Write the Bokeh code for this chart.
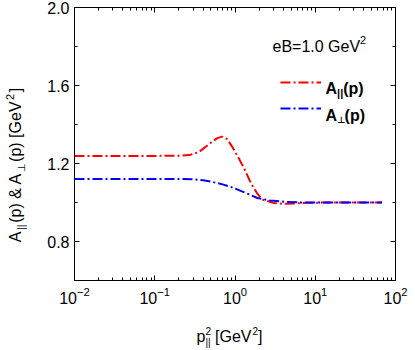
from bokeh.plotting import figure
from bokeh.layouts import column, row
from bokeh.models import (LogAxis, LinearAxis, LogTicker, SingleIntervalTicker,
                          PrintfTickFormatter, CustomJSTickFormatter, Label,
                          Legend, LegendItem, Range1d, Div)
from bokeh.embed import file_html
from bokeh.resources import INLINE

# ---------------- data ----------------
red_x = [0.01, 0.03, 0.1, 0.2, 0.27, 0.356, 0.49, 0.6, 0.695, 0.8, 0.90,
         1.09, 1.31, 1.58, 1.9, 2.18, 3.0, 4.0, 5.7, 8.0, 20.0, 68.0]
red_y = [1.239, 1.239, 1.239, 1.240, 1.243, 1.259, 1.304, 1.330, 1.338, 1.325, 1.293,
         1.234, 1.172, 1.099, 1.045, 1.015, 0.998, 0.993, 0.995, 0.999, 1.000, 1.000]

blue_x = [0.01, 0.03, 0.1, 0.2, 0.3, 0.4, 0.516, 0.7, 0.9, 1.31, 1.9, 2.74,
          4.38, 7.0, 20.0, 68.0]
blue_y = [1.121, 1.121, 1.121, 1.121, 1.119, 1.114, 1.106, 1.093, 1.079, 1.052,
          1.023, 1.010, 1.003, 1.000, 1.000, 1.000]

x_limits = (0.01, 100.0)
y_limits = (0.6, 2.0)
y_major_interval = 0.4

FONT = "Liberation Sans"
RED = "#ff0000"
BLUE = "#0000ff"
DASH = "10 3 2 3"

# ---------------- geometry (pixels inside the 399x334 area) ----------------
TOTAL_W, TOTAL_H = 399, 334
YLAB_W = 26            # column holding the y-axis title
FL, FR, FT, FB = 64, 385, 7, 280          # plot frame
P_W = TOTAL_W - YLAB_W
P_H = 313
XLAB_H = TOTAL_H - P_H
frame_w, frame_h = FR - FL, FB - FT

p = figure(width=P_W, height=P_H, x_axis_type="log",
           x_range=Range1d(*x_limits), y_range=Range1d(*y_limits),
           output_backend="svg", toolbar_location=None,
           min_border_left=FL - YLAB_W, min_border_right=TOTAL_W - FR,
           min_border_top=FT, min_border_bottom=P_H - FB)
p.background_fill_color = "white"
p.border_fill_color = "white"
p.outline_line_color = "black"
p.outline_line_width = 1
p.xgrid.visible = False
p.ygrid.visible = False


def style_axis(ax):
    ax.major_tick_in = 5
    ax.major_tick_out = 0
    ax.minor_tick_in = 3
    ax.minor_tick_out = 0
    ax.axis_line_color = "black"
    ax.major_tick_line_color = "black"
    ax.minor_tick_line_color = "black"
    ax.major_label_text_font = FONT
    ax.major_label_text_font_size = "16px"
    ax.major_label_text_color = "black"


xa = p.xaxis[0]
style_axis(xa)
xa.ticker = LogTicker(num_minor_ticks=10)
xa.major_label_standoff = 6

ya = p.yaxis[0]
style_axis(ya)
ya.ticker = SingleIntervalTicker(interval=y_major_interval, num_minor_ticks=2)
ya.formatter = PrintfTickFormatter(format="%.1f")
ya.major_label_standoff = 5

top = LogAxis(ticker=LogTicker(num_minor_ticks=10),
              formatter=CustomJSTickFormatter(code="return ''"))
style_axis(top)
top.major_label_text_font_size = "1px"
top.major_label_standoff = 0
p.add_layout(top, "above")

right = LinearAxis(ticker=SingleIntervalTicker(interval=y_major_interval, num_minor_ticks=2),
                   formatter=CustomJSTickFormatter(code="return ''"))
style_axis(right)
right.major_label_text_font_size = "1px"
right.major_label_standoff = 0
p.add_layout(right, "right")

r_red = p.line(red_x, red_y, line_color=RED, line_width=2, line_dash=DASH)
r_blue = p.line(blue_x, blue_y, line_color=BLUE, line_width=2, line_dash=DASH)

# legend sample lines (texts are added as labels below)
LEG_TOP = 64.5      # legend top below the frame top
leg = Legend(items=[LegendItem(label="", renderers=[r_red]),
                    LegendItem(label="", renderers=[r_blue])],
             location=(frame_w - 115.5, frame_h - LEG_TOP - 46),
             glyph_width=41, glyph_height=20, label_height=20, label_width=1,
             spacing=6, padding=0, margin=0, label_standoff=0,
             border_line_color=None, background_fill_alpha=0)
p.add_layout(leg, "center")

W_REG = {' ': 278, '=': 584, '.': 278, 'B': 667, 'G': 778, 'V': 667, 'e': 556}
W_BOLD = {'A': 722, '(': 333, ')': 333, 'p': 611, '|': 280, '⊥': 840}


def width_of(txt, size, bold=False):
    tab = W_BOLD if bold else W_REG
    return sum(tab.get(c, 556) for c in txt) * size / 1000.0


def add_pieces(pieces, x, y, x0, y0, bold=False):
    pos = 0.0
    for txt, size, shift, font in pieces:
        p.add_layout(Label(x=x, y=y, x_offset=x0 + pos, y_offset=y0 + shift, text=txt,
                           text_font=font, text_font_size=f"{size}px",
                           text_font_style="bold" if bold else "normal",
                           text_color="black", text_align="left",
                           text_baseline="alphabetic"))
        pos += width_of(txt, size, bold)


# annotation eB = 1.0 GeV²
add_pieces([("eB=1.0 GeV", 16, 0, FONT), ("2", 11, 7, FONT)],
           x_limits[1], y_limits[1], -123, -39)

# legend texts
add_pieces([("A", 16, 0, FONT), ("||", 11, -4, FONT), ("(p)", 16, 0, FONT)],
           x_limits[1], y_limits[1], -70, -81, bold=True)
add_pieces([("A", 16, 0, FONT), ("⊥", 9, -4, "DejaVu Sans"), ("(p)", 16, 0, FONT)],
           x_limits[1], y_limits[1], -70, -108, bold=True)

# ---------------- axis titles as real HTML text ----------------
FSTYLE = "font-family:'Liberation Sans',Arial,sans-serif;font-size:16px;color:#000;"
SUB = "font-size:11px;position:relative;top:4px;margin:0 1.5px;"
SUP = "font-size:11px;position:relative;top:-7px;margin:0 1.5px;"

y_title = ('A<span style="%s">||</span>(p) &amp; A<span style="%s">&#8869;</span>(p) [GeV'
           '<span style="%s">2</span>]') % (SUB, SUB + "font-size:10px;", SUP)
ycenter = 159.5    # y of the title centre
ybase_x = 16.5     # x of the rotated baseline
ydiv = Div(width=YLAB_W, height=P_H, text=(
    '<div style="position:relative;width:%dpx;height:%dpx;overflow:visible;">'
    '<div style="position:absolute;left:%.1fpx;top:%.1fpx;width:300px;height:18px;'
    'line-height:18px;text-align:center;white-space:nowrap;transform:rotate(-90deg);'
    'transform-origin:0 0;%s">%s</div></div>')
    % (YLAB_W, P_H, ybase_x - 14.5, ycenter + 150, FSTYLE, y_title))

XSUB = "font-size:10px;position:relative;top:4.5px;margin-left:-5.6px;"
XSUP = "font-size:10px;position:relative;top:-7px;"
x_title = ('p<span style="%s">2</span><span style="%s">||</span> [GeV'
           '<span style="%s">2</span>]') % (XSUP, XSUB, XSUP + "margin-left:1px;")
xcenter = (FL + FR) / 2
xbase_y = 327 - P_H   # baseline inside the title row
xdiv = Div(width=TOTAL_W, height=XLAB_H, text=(
    '<div style="position:relative;width:%dpx;height:%dpx;overflow:visible;">'
    '<div style="position:absolute;left:%.1fpx;top:%.1fpx;width:200px;height:18px;'
    'line-height:18px;text-align:center;white-space:nowrap;%s">%s</div></div>')
    % (TOTAL_W, XLAB_H, xcenter - 100, xbase_y - 14.5, FSTYLE, x_title))

layout = column(row(ydiv, p, spacing=0), xdiv, spacing=0)

open("out.html", "w").write(file_html(layout, INLINE))
